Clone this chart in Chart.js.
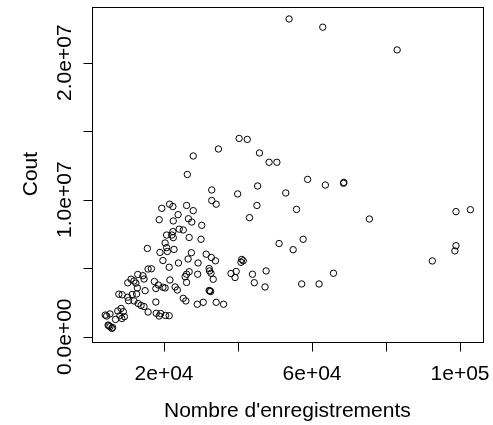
<!DOCTYPE html>
<html lang="fr">
<head>
  <meta charset="UTF-8">
  <title>Cout vs Nombre d'enregistrements</title>
  <script src="https://cdn.jsdelivr.net/npm/chart.js"></script>
  <style>
    html, body { margin: 0; padding: 0; background: #fff; }
    #wrap { width: 493px; height: 425px; }
  </style>
</head>
<body>

<div id="wrap"><canvas id="nuage" width="493" height="425"></canvas></div>

<script>
// Nombre d'enregistrements (x) et Cout (y)
const enregistrements = [
  53800, 62900, 83000, 40300, 42500, 34700, 27900, 45800, 48400, 50500,
  26300, 58800, 63600, 68500, 68600, 52900, 55800, 75500, 51100, 54900,
  57600, 65800, 57200, 61900, 92500, 98600, 98900, 98900, 102800, 32900,
  32900, 34100, 39900, 45300, 45100, 43100, 19400, 21500, 22400, 26100,
  27900, 18700, 22500, 23800, 26600, 27500, 30200, 24100, 25200, 22400,
  22100, 20700, 22500, 26800, 30000, 20300, 20700, 22700, 15500, 18900,
  20900, 27400, 31400, 32800, 33900, 19700, 26500, 23900, 29200, 21400,
  15700, 16600, 32200, 32300, 32700, 33300, 26800, 26100, 25700, 29100,
  38100, 39500, 39200, 41000, 41400, 40800, 43900, 44400, 47600, 47300,
  26100, 32400, 32200, 32600, 25200, 25900, 29000, 30600, 34100, 36100,
  12900, 14300, 14600, 11100, 11900, 12400, 10200, 17400, 18500, 21600,
  17800, 20300, 19700, 23000, 23600, 12800, 14900, 7800, 8700, 11400,
  12600, 10200, 10400, 11900, 13000, 14600, 13800, 17800, 15700, 17900,
  18700, 20400, 21400, 19100, 8400, 9000, 9300, 8600, 8100, 7500,
  5400, 4500, 4100, 6900, 4900, 5400, 5900, 5100, 6100
];
const cout = [
  23190000, 22590000, 20930000, 14470000, 14400000, 13700000, 13190000, 13410000, 12730000, 12730000,
  11840000, 11480000, 11070000, 11200000, 11260000, 10490000, 9290000, 8590000, 6800000, 6350000,
  7110000, 4630000, 3850000, 3850000, 5530000, 6260000, 6640000, 9130000, 9270000, 10710000,
  9940000, 9670000, 10420000, 11000000, 9580000, 8690000, 9370000, 9670000, 9500000, 9580000,
  9200000, 8540000, 8450000, 8910000, 8610000, 8370000, 8130000, 7850000, 7790000, 7670000,
  7420000, 7420000, 7230000, 7240000, 7110000, 6840000, 6500000, 6370000, 6440000, 6150000,
  6220000, 6130000, 6020000, 5780000, 5540000, 5560000, 5670000, 5380000, 5380000, 5070000,
  4940000, 4960000, 4980000, 4800000, 4630000, 4190000, 4740000, 4560000, 4380000, 4560000,
  4610000, 4760000, 4320000, 5640000, 5540000, 5430000, 4560000, 3940000, 4800000, 3630000,
  3960000, 3340000, 3370000, 3300000, 2800000, 2610000, 2370000, 2510000, 2510000, 2370000,
  4540000, 4450000, 4210000, 4200000, 4070000, 3910000, 3930000, 4030000, 3770000, 4140000,
  3520000, 3560000, 3610000, 3630000, 3410000, 3560000, 3360000, 3100000, 3060000, 3080000,
  3120000, 2880000, 2630000, 2610000, 2420000, 2200000, 2280000, 2530000, 1800000, 1710000,
  1510000, 1550000, 1530000, 1690000, 2060000, 1830000, 1460000, 1330000, 1530000, 1880000,
  1660000, 1510000, 1580000, 1260000, 850000, 730000, 610000, 800000, 670000
];

// graduations des axes (R omet les etiquettes qui se chevauchent)
const xGraduations = [20000, 40000, 60000, 80000, 100000];
const xEtiquettes = ["2e+04", "", "6e+04", "", "1e+05"];
const yGraduations = [0, 5000000, 10000000, 15000000, 20000000];
const yEtiquettes = ["0.0e+00", "", "1.0e+07", "", "2.0e+07"];

const titreX = "Nombre d'enregistrements";
const titreY = "Cout";

const police = '21px "Liberation Sans", Arial, sans-serif';

// dessine le cadre et les axes facon R
const axesR = {
  id: 'axesR',
  afterDraw(chart) {
    const ctx = chart.ctx;
    const a = chart.chartArea;
    const sx = chart.scales.x;
    const sy = chart.scales.y;
    ctx.save();
    ctx.strokeStyle = '#000';
    ctx.lineWidth = 1;
    ctx.strokeRect(Math.round(a.left) + 0.5, Math.round(a.top) + 0.5,
                   Math.round(a.right - a.left), Math.round(a.bottom - a.top));

    ctx.fillStyle = '#000';
    ctx.font = police;

    // axe x
    const yb = Math.round(a.bottom) + 0.5;
    ctx.beginPath();
    xGraduations.forEach(v => {
      const px = Math.round(sx.getPixelForValue(v)) + 0.5;
      ctx.moveTo(px, yb);
      ctx.lineTo(px, yb + 9);
    });
    ctx.stroke();
    ctx.textAlign = 'center';
    ctx.textBaseline = 'alphabetic';
    xGraduations.forEach((v, i) => {
      if (xEtiquettes[i]) ctx.fillText(xEtiquettes[i], sx.getPixelForValue(v), 380);
    });
    ctx.fillText(titreX, (a.left + a.right) / 2, 417);

    // axe y
    const xl = Math.round(a.left) + 0.5;
    ctx.beginPath();
    yGraduations.forEach(v => {
      const py = Math.round(sy.getPixelForValue(v)) + 0.5;
      ctx.moveTo(xl, py);
      ctx.lineTo(xl - 9, py);
    });
    ctx.stroke();
    yGraduations.forEach((v, i) => {
      if (!yEtiquettes[i]) return;
      ctx.save();
      ctx.translate(71, sy.getPixelForValue(v));
      ctx.rotate(-Math.PI / 2);
      ctx.fillText(yEtiquettes[i], 0, 0);
      ctx.restore();
    });
    ctx.save();
    ctx.translate(37, (a.top + a.bottom) / 2);
    ctx.rotate(-Math.PI / 2);
    ctx.fillText(titreY, 0, 0);
    ctx.restore();

    ctx.restore();
  }
};

new Chart(document.getElementById('nuage').getContext('2d'), {
  type: 'scatter',
  data: {
    datasets: [{
      data: enregistrements.map((x, i) => ({ x: x, y: cout[i] })),
      pointStyle: 'circle',
      pointRadius: 3.2,
      pointHoverRadius: 3.2,
      borderWidth: 1,
      borderColor: '#000',
      backgroundColor: 'rgba(0,0,0,0)'
    }]
  },
  options: {
    responsive: false,
    devicePixelRatio: 1,
    animation: false,
    layout: { padding: { left: 91.7, right: 10, top: 6.5, bottom: 83.3 } },
    plugins: { legend: { display: false }, tooltip: { enabled: false } },
    scales: {
      x: { type: 'linear', min: 460, max: 106200, display: false },
      y: { type: 'linear', min: -365000, max: 24100000, display: false }
    }
  },
  plugins: [axesR]
});
</script>

</body>
</html>
